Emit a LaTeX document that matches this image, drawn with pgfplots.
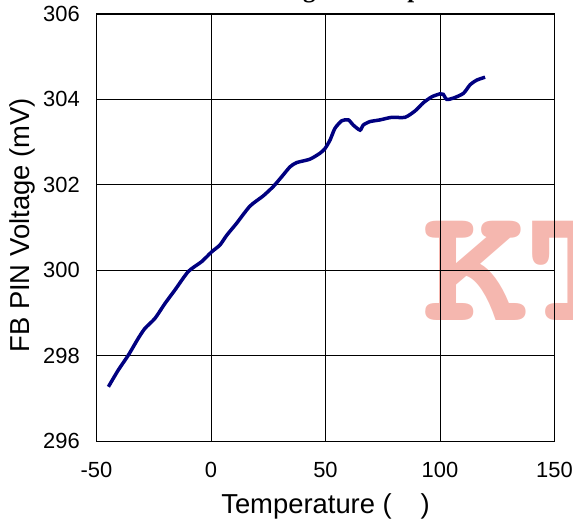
\documentclass[border=0pt]{standalone}
\usepackage{fontspec}
\setmainfont{Liberation Sans}
\newfontfamily\wmfont{texgyrecursor-bold.otf}
\newfontfamily\titlefont{Liberation Serif}
\usepackage{pgfplots}
\pgfplotsset{compat=1.18}
\definecolor{wmpink}{RGB}{245,183,175}
\definecolor{curveblue}{RGB}{0,0,128}
\begin{document}
\begin{tikzpicture}
% watermark (behind the axis)
\node[anchor=base west, inner sep=0pt, text=wmpink, font=\wmfont\fontsize{171}{171}\selectfont] at (326.5bp,120bp) {KT};
% title, mostly outside the page
\node[anchor=base west, inner sep=0pt, font=\titlefont\bfseries\fontsize{25}{30}\selectfont] at (112.5bp,443bp) {FB Voltage vs Temperature};
\begin{axis}[
  name=ax,
  at={(0,0)}, anchor=south west,
  width=458bp, height=427bp, scale only axis,
  xmin=-50, xmax=150, ymin=296, ymax=306,
  xtick={-50,0,50,100,150},
  ytick={296,298,300,302,304,306},
  grid=major,
  grid style={black, line width=0.6bp},
  axis line style={black, line width=1bp},
  major tick length=0pt,
  /pgf/number format/assume math mode=true,
  tick label style={font=\fontsize{22}{26}\selectfont, inner sep=0pt},
  xticklabel style={anchor=north, yshift=-21bp},
  yticklabel style={anchor=east, xshift=-16.5bp},
  xlabel={Temperature (\hspace{1.05em})},
  ylabel={FB PIN Voltage (mV)},
  label style={font=\fontsize{27.5}{32}\selectfont, inner sep=0pt},
  xlabel style={at={(axis description cs:0.5,0)}, anchor=base, yshift=-72bp},
  ylabel style={at={(axis description cs:0,0.505)}, anchor=base, yshift=66.5bp},
]
\addplot[color=curveblue, line width=3.5bp, smooth, tension=0.4] coordinates {
(-44.8,297.27) (-40.5,297.66) (-36.1,298.01) (-31.7,298.41) (-28.8,298.64)
(-24.5,298.87) (-20.1,299.22) (-15.7,299.54) (-9.9,299.97) (-4.1,300.20)
(0.3,300.43) (3.9,300.59) (6.9,300.82) (11.2,301.10) (17.0,301.50)
(22.8,301.74) (27.2,301.96) (30.9,302.19) (34.5,302.42) (37.4,302.52)
(43.2,302.60) (47.6,302.74) (49.8,302.85) (52.0,303.05) (54.1,303.32)
(57.1,303.50) (60.0,303.52) (62.1,303.40) (65.1,303.28) (66.5,303.40)
(69.4,303.48) (73.8,303.52) (78.9,303.58) (84.7,303.58) (89.1,303.73)
(92.7,303.92) (96.4,304.06) (100.0,304.13) (101.4,304.12) (102.9,304.00)
(105.8,304.03) (110.2,304.14) (113.1,304.34) (116.0,304.45) (119.7,304.52)
};
\end{axis}
\pgfresetboundingbox
\path[use as bounding box] (-96.5bp,-81bp) rectangle (476.5bp,441bp);
\end{tikzpicture}
\end{document}
